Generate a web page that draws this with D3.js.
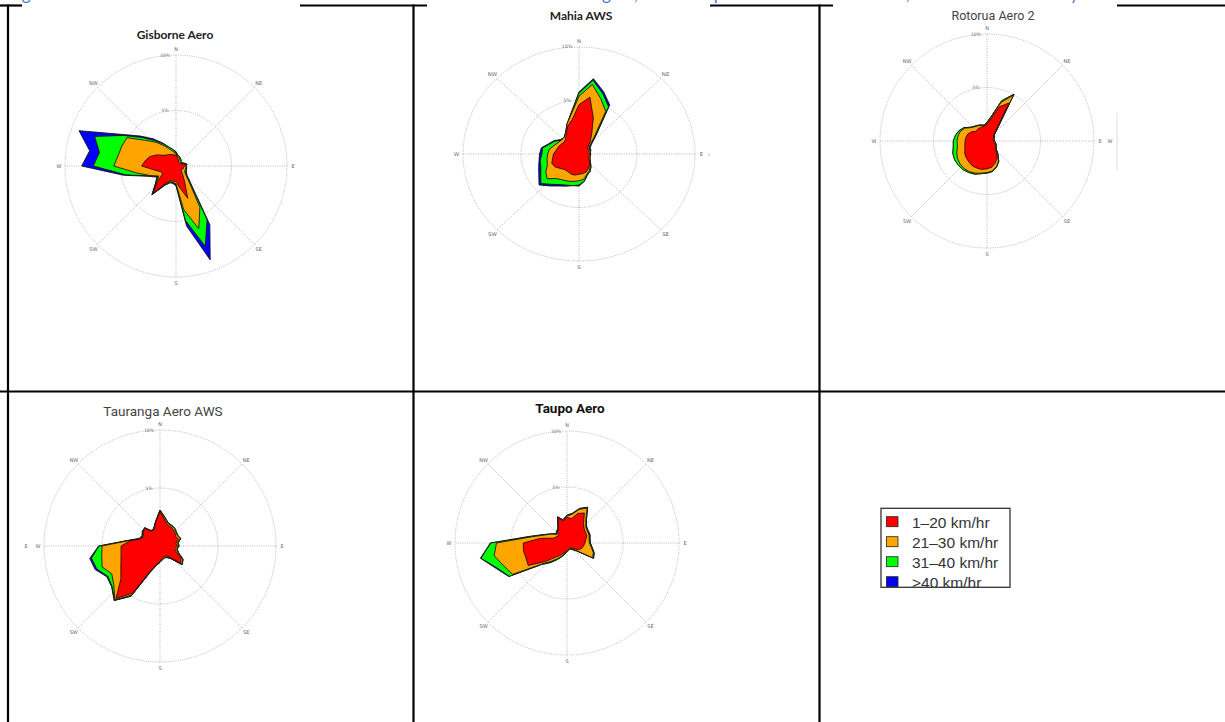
<!DOCTYPE html>
<html>
<head>
  <meta charset="utf-8">
  <style>
    body { margin: 0; background: #fff; }
    svg { display: block; }
  </style>
</head>
<body>
  <div id="page"></div>
  <script src="https://d3js.org/d3.v7.min.js"></script>
  <script>
    // directions every 10 degrees, 0 = N, clockwise
    var directions = d3.range(0, 360, 10);
    var speedClasses = ["1\u201320 km/hr", "21\u201330 km/hr", "31\u201340 km/hr", ">40 km/hr"];
    var classColours = ["#ff0000", "#ffa500", "#00ff00", "#0000ff"];
    var compassLabels = ["N", "NE", "E", "SE", "S", "SW", "W", "NW"];
    var ringValues = [5, 10];

    // cumulative % of time wind blows from each direction, up to each speed class
    var gisborne20  = [1.0,0.8,0.6,0.5,0.4,0.4,0.4,0.6,0.9,0.8,0.7,0.7,0.6,0.6,0.9,1.5,3.1,2.0,1.4,1.4,1.4,1.8,3.2,2.2,1.4,1.5,2.0,3.1,2.8,2.5,2.0,1.5,1.3,1.2,1.1,1.0];
    var gisborne30  = [1.1,0.9,0.8,0.7,0.6,0.5,0.5,0.7,1.0,0.9,0.9,0.9,0.9,1.1,1.8,4.3,6.0,4.0,1.6,1.5,1.5,1.9,3.3,2.3,1.8,2.5,3.6,5.6,5.3,5.2,5.1,3.6,2.8,2.1,1.6,1.3];
    var gisborne40  = [1.2,1.0,0.9,0.8,0.7,0.6,0.6,0.7,1.0,0.9,0.9,1.0,1.0,1.2,2.0,5.6,7.7,5.0,1.7,1.5,1.6,2.0,3.3,2.4,1.9,2.6,4.6,7.45,7.0,7.8,5.5,4.0,3.0,2.3,1.8,1.5];
    var gisborneAll = [1.3,1.0,0.9,0.8,0.7,0.6,0.6,0.8,1.0,0.9,1.0,1.0,1.1,1.3,2.1,6.1,9.0,5.5,1.8,1.6,1.6,2.0,3.4,2.4,2.0,2.7,4.8,8.5,7.9,9.3,5.7,4.2,3.2,2.4,1.8,1.5];

    var mahia20  = [4.6,5.4,3.6,2.2,1.5,1.0,0.9,0.9,0.9,0.9,0.9,0.9,1.0,1.2,1.4,1.6,1.8,1.85,1.9,2.0,2.0,1.9,1.9,2.1,2.4,2.5,2.3,2.2,2.0,1.9,1.8,1.7,1.8,2.2,2.8,3.3];
    var mahia30  = [5.4,6.6,5.5,4.6,2.0,1.2,1.0,1.0,1.0,1.0,1.0,1.0,1.1,1.3,1.5,1.8,2.0,2.4,2.5,2.6,2.7,2.8,3.0,3.6,3.3,2.9,2.8,2.7,2.6,2.3,2.1,2.0,2.0,2.3,3.0,3.8];
    var mahia40  = [5.7,7.0,6.0,5.1,2.2,1.3,1.0,1.0,1.0,1.0,1.0,1.0,1.1,1.3,1.6,1.9,2.1,2.6,2.9,3.0,3.1,3.3,3.7,4.3,3.8,3.5,3.4,3.2,3.2,2.7,2.4,2.0,2.0,2.3,3.0,3.9];
    var mahiaAll = [5.8,7.15,6.2,5.3,2.3,1.4,1.1,1.1,1.0,1.0,1.0,1.0,1.1,1.3,1.6,1.9,2.1,2.6,3.0,3.0,3.2,3.45,3.9,4.5,4.0,3.7,3.5,3.4,3.3,2.8,2.5,2.1,2.0,2.3,3.0,3.9];

    var rotorua20  = [1.6,2.1,3.4,4.1,1.3,0.8,0.7,0.6,0.6,0.6,0.7,0.8,0.9,1.0,1.4,1.9,2.2,2.5,2.6,2.7,2.7,2.7,2.6,2.5,2.4,2.2,2.1,2.05,2.0,1.9,1.7,1.4,1.4,1.4,1.4,1.4];
    var rotorua30  = [1.7,2.3,3.85,4.95,1.45,0.85,0.75,0.7,0.7,0.7,0.8,0.9,1.0,1.1,1.55,2.15,2.55,2.85,2.95,3.05,3.2,3.3,3.35,3.3,3.2,3.0,2.8,2.8,2.75,2.65,2.4,1.95,1.75,1.65,1.55,1.45];
    var rotorua40  = [1.75,2.35,4.0,5.05,1.5,0.9,0.8,0.7,0.7,0.7,0.8,0.9,1.0,1.1,1.6,2.2,2.6,2.9,3.0,3.1,3.3,3.4,3.5,3.5,3.5,3.4,3.2,3.15,3.0,2.8,2.5,2.0,1.8,1.7,1.6,1.5];
    var rotoruaAll = [1.75,2.35,4.0,5.05,1.5,0.9,0.8,0.7,0.7,0.7,0.8,0.9,1.0,1.1,1.6,2.2,2.6,2.9,3.0,3.1,3.3,3.4,3.5,3.5,3.5,3.4,3.2,3.15,3.0,2.8,2.5,2.0,1.8,1.7,1.6,1.5];

    var tauranga20  = [3.0,2.3,1.9,1.9,1.8,1.7,1.6,1.7,1.4,1.5,1.3,1.5,2.1,2.3,1.2,1.0,1.0,1.1,1.3,1.6,2.2,4.7,5.9,4.4,3.9,3.58,3.41,3.36,2.6,1.8,1.6,1.9,2.0,1.45,1.5,2.1];
    var tauranga30  = [3.05,2.45,2.05,2.0,1.95,1.8,1.75,1.85,1.55,1.6,1.45,1.65,2.25,2.45,1.35,1.1,1.1,1.2,1.4,1.7,2.3,4.9,6.05,5.2,4.8,5.3,5.1,5.0,2.7,1.85,1.7,1.95,2.05,1.5,1.55,2.15];
    var tauranga40  = [3.1,2.5,2.1,2.05,2.0,1.85,1.8,1.9,1.6,1.65,1.5,1.7,2.3,2.5,1.4,1.15,1.1,1.2,1.4,1.7,2.35,5.0,6.1,5.4,5.2,5.8,6.0,5.25,2.75,1.85,1.75,1.95,2.05,1.5,1.6,2.15];
    var taurangaAll = [3.1,2.5,2.1,2.05,2.0,1.85,1.8,1.9,1.6,1.65,1.5,1.7,2.3,2.5,1.4,1.15,1.1,1.2,1.4,1.7,2.35,5.0,6.15,5.45,5.3,5.95,6.15,5.3,2.8,1.9,1.8,2.0,2.05,1.55,1.6,2.15];

    var taupo20  = [2.3,2.2,2.8,3.1,2.3,2.0,1.9,1.9,1.7,1.6,1.5,1.4,1.2,0.8,0.6,0.5,0.5,0.6,0.7,0.8,1.0,1.3,1.7,2.6,4.0,3.9,3.95,3.9,2.4,1.25,1.1,1.0,1.3,1.5,2.4,2.0];
    var taupo30  = [2.4,2.6,3.2,3.6,2.6,2.2,2.1,2.1,2.0,2.0,2.2,2.5,2.65,1.0,0.7,0.6,0.6,0.7,0.8,0.9,1.2,1.6,2.1,2.9,5.6,6.0,6.6,6.3,3.2,2.1,1.6,1.2,1.35,1.6,2.45,2.1];
    var taupo40  = [2.45,2.65,3.25,3.65,2.7,2.25,2.15,2.15,2.05,2.05,2.25,2.55,2.7,1.05,0.75,0.6,0.6,0.7,0.8,0.95,1.25,1.7,2.2,3.0,5.95,6.6,7.8,6.8,3.35,2.2,1.6,1.25,1.4,1.6,2.45,2.1];
    var taupoAll = [2.5,2.7,3.3,3.7,2.7,2.3,2.2,2.2,2.1,2.1,2.3,2.6,2.75,1.1,0.8,0.65,0.6,0.7,0.8,1.0,1.3,1.7,2.3,3.0,6.0,6.7,7.85,6.85,3.4,2.2,1.65,1.3,1.4,1.6,2.5,2.1];

    var width = 1225, height = 722;

    var stations = [
      {title: "Gisborne Aero", layers: [gisborne20, gisborne30, gisborne40, gisborneAll],
       cx: 176, cy: 166, R: 111, sx: 1, tx: 175, ty: 39, font: "Lato", weight: "bold", size: 12, colour: "#222"},
      {title: "Mahia AWS", layers: [mahia20, mahia30, mahia40, mahiaAll],
       cx: 579, cy: 154, R: 107, sx: 1.084, tx: 581, ty: 19.5, font: "Lato", weight: "bold", size: 12, colour: "#222"},
      {title: "Rotorua Aero 2", layers: [rotorua20, rotorua30, rotorua40, rotoruaAll],
       cx: 987, cy: 141, R: 107, sx: 1, tx: 993, ty: 19.5, font: "Roboto", weight: "normal", size: 12.5, colour: "#444"},
      {title: "Tauranga Aero AWS", layers: [tauranga20, tauranga30, tauranga40, taurangaAll],
       cx: 160, cy: 546, R: 116, sx: 1, tx: 163, ty: 416, font: "Roboto", weight: "normal", size: 13.5, colour: "#444"},
      {title: "Taupo Aero", layers: [taupo20, taupo30, taupo40, taupoAll],
       cx: 567, cy: 543, R: 112, sx: 1, tx: 570, ty: 412.5, font: "Roboto", weight: "bold", size: 13.5, colour: "#111"}
    ];

    var svg = d3.select("#page").append("svg")
        .attr("width", width)
        .attr("height", height);

    svg.append("rect").attr("width", width).attr("height", height).attr("fill", "#fff");

    // caption, almost entirely cut off at the top of the page
    svg.append("text")
        .attr("x", 8)
        .attr("y", -0.5)
        .attr("fill", "#3f78c8")
        .style("font-family", "Lato")
        .style("font-size", "17px")
        .text("Figure 5: Wind roses for the climate stations in the East Coast and the central region, shown in percent for each direction, as measured at site by NIWA");

    // table rules
    var rule = svg.append("g").attr("stroke", "#000").attr("stroke-width", 2.2);
    [[0, 22], [300, 427], [710, 833], [1117, 1225]].forEach(function(s) {
      rule.append("line").attr("x1", s[0]).attr("x2", s[1]).attr("y1", 5.5).attr("y2", 5.5);
    });
    rule.append("line").attr("x1", 0).attr("x2", width).attr("y1", 391.5).attr("y2", 391.5);
    [8, 413.5, 819.5].forEach(function(x) {
      rule.append("line").attr("x1", x).attr("x2", x).attr("y1", 4.4).attr("y2", height);
    });

    var deg = Math.PI / 180;

    function drawRose(st) {
      var r = d3.scaleLinear().domain([0, 10]).range([0, st.R]);
      var g = svg.append("g")
          .attr("transform", "translate(" + st.cx + "," + st.cy + ") scale(" + st.sx + ",1)");

      // grid
      ringValues.forEach(function(v) {
        g.append("circle")
            .attr("r", r(v))
            .attr("fill", "none")
            .attr("stroke", "#9a9a9a")
            .attr("stroke-width", 0.7)
            .attr("stroke-dasharray", "1,1.3");
      });
      compassLabels.forEach(function(lab, i) {
        var a = i * 45 * deg;
        g.append("line")
            .attr("x1", 0).attr("y1", 0)
            .attr("x2", r(10) * Math.sin(a))
            .attr("y2", -r(10) * Math.cos(a))
            .attr("stroke", "#9a9a9a")
            .attr("stroke-width", 0.7)
            .attr("stroke-dasharray", "1,1.3");
      });

      // stacked speed classes, outermost first
      var radial = d3.lineRadial()
          .angle(function(d, i) { return directions[i] * deg; })
          .radius(function(d) { return r(d); })
          .curve(d3.curveLinearClosed);

      for (var k = st.layers.length - 1; k >= 0; k--) {
        g.append("path")
            .attr("d", radial(st.layers[k]))
            .attr("fill", classColours[k])
            .attr("stroke", "#111")
            .attr("stroke-width", 0.85)
            .attr("stroke-linejoin", "round");
      }

      // compass and ring labels
      compassLabels.forEach(function(lab, i) {
        var a = i * 45 * deg;
        g.append("text")
            .attr("x", (r(10) + 6) * Math.sin(a))
            .attr("y", -(r(10) + 6) * Math.cos(a))
            .attr("text-anchor", "middle")
            .attr("dominant-baseline", "central")
            .attr("fill", "#666")
            .style("font-family", "DejaVu Sans")
            .style("font-size", "5px")
            .text(lab);
      });
      ringValues.forEach(function(v) {
        g.append("text")
            .attr("x", -11)
            .attr("y", -r(v))
            .attr("text-anchor", "middle")
            .attr("dominant-baseline", "central")
            .attr("fill", "#777")
            .style("font-family", "DejaVu Sans")
            .style("font-size", "4.6px")
            .text(v + "%");
      });

      svg.append("text")
          .attr("x", st.tx)
          .attr("y", st.ty)
          .attr("text-anchor", "middle")
          .attr("fill", st.colour)
          .style("font-family", st.font)
          .style("font-weight", st.weight)
          .style("font-size", st.size + "px")
          .text(st.title);
    }

    stations.forEach(drawRose);

    // stray label fragments left by the cropped source images
    var strays = [[709, 154, "\u0131"], [1110, 141, "W"], [26, 546, "E"]];
    strays.forEach(function(s) {
      svg.append("text")
          .attr("x", s[0]).attr("y", s[1])
          .attr("text-anchor", "middle")
          .attr("dominant-baseline", "central")
          .attr("fill", "#666")
          .style("font-family", "DejaVu Sans")
          .style("font-size", "5px")
          .text(s[2]);
    });
    svg.append("line")
        .attr("x1", 1117).attr("x2", 1117).attr("y1", 113).attr("y2", 170)
        .attr("stroke", "#ddd").attr("stroke-width", 1);

    // legend, its last row clipped by the frame
    var legend = svg.append("g");
    svg.append("clipPath").attr("id", "legclip")
      .append("rect").attr("x", 881).attr("y", 508).attr("width", 129).attr("height", 79);
    var legInner = legend.append("g").attr("clip-path", "url(#legclip)");
    speedClasses.forEach(function(lab, i) {
      var y = 521.7 + i * 20;
      legInner.append("rect")
          .attr("x", 886.5).attr("y", y - 5)
          .attr("width", 11.5).attr("height", 10)
          .attr("fill", classColours[i])
          .attr("stroke", "#222").attr("stroke-width", 0.8);
      legInner.append("text")
          .attr("x", 912).attr("y", y + 6)
          .attr("fill", "#333")
          .style("font-family", "Liberation Sans")
          .style("font-size", "15.5px")
          .text(lab);
    });
    legend.append("rect")
        .attr("x", 881).attr("y", 508.3)
        .attr("width", 129).attr("height", 79)
        .attr("fill", "none")
        .attr("stroke", "#333").attr("stroke-width", 1.3);
  </script>
</body>
</html>
